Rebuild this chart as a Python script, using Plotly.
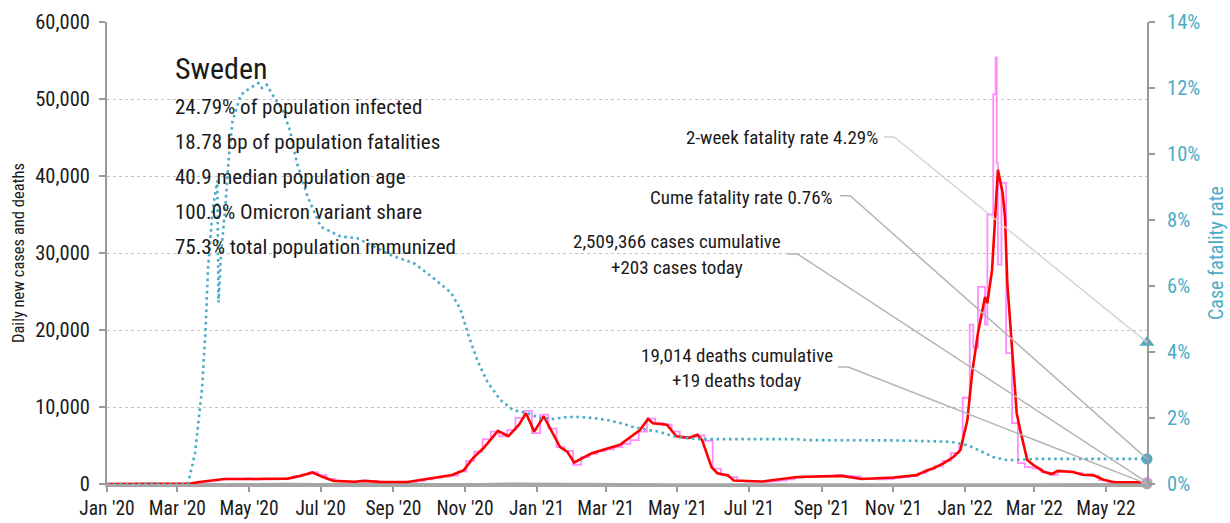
import plotly.graph_objects as go

FONT = "Liberation Sans Narrow, Roboto Condensed, DejaVu Sans Condensed, Arial Narrow, sans-serif"
TEAL = "#4bacc6"
RED = "#ff0000"
PINK = "#ff8cff"
GREY = "#a6a6a6"
INK = "#1a1a1a"

# ---- 7-day average of new cases ----
avg_dates = [
    "2020-01-01", "2020-02-28", "2020-03-12", "2020-03-20", "2020-04-01", "2020-04-10",
    "2020-05-01", "2020-05-20", "2020-06-03", "2020-06-15", "2020-06-24", "2020-07-03",
    "2020-07-12", "2020-07-30", "2020-08-07", "2020-08-20", "2020-09-13", "2020-09-24",
    "2020-10-11", "2020-10-21", "2020-10-31", "2020-11-08", "2020-11-17", "2020-11-29",
    "2020-12-08", "2020-12-17", "2020-12-23", "2020-12-30", "2021-01-07", "2021-01-21",
    "2021-01-27", "2021-02-02", "2021-02-17", "2021-03-13", "2021-03-30", "2021-04-06",
    "2021-04-10", "2021-04-22", "2021-04-30", "2021-05-11", "2021-05-18", "2021-05-22",
    "2021-05-30", "2021-06-04", "2021-06-13", "2021-06-18", "2021-07-12", "2021-08-11",
    "2021-09-18", "2021-10-05", "2021-11-01", "2021-11-21", "2021-11-27", "2021-12-05",
    "2021-12-14", "2021-12-22", "2021-12-28", "2022-01-03", "2022-01-07", "2022-01-12",
    "2022-01-18", "2022-01-20", "2022-01-24", "2022-01-29", "2022-02-02", "2022-02-04",
    "2022-02-06", "2022-02-10", "2022-02-14", "2022-02-17", "2022-02-23", "2022-02-28",
    "2022-03-09", "2022-03-16", "2022-03-21", "2022-04-03", "2022-04-11", "2022-04-20",
    "2022-04-29", "2022-05-07", "2022-06-05",
]
avg_cases = [
    0, 5, 60, 250, 450, 650,
    650, 650, 700, 1100, 1500, 900,
    400, 300, 400, 280, 260, 520,
    900, 1170, 1800, 3400, 4700, 6900,
    6200, 7700, 9200, 6800, 8800, 4800,
    4200, 2800, 4000, 5100, 7000, 8450,
    7900, 7700, 6200, 6000, 6400, 5700,
    2200, 1400, 1100, 450, 320, 900,
    1050, 650, 850, 1150, 1600, 2050,
    2700, 3500, 4400, 8300, 14400, 19600,
    24300, 23500, 27800, 40800, 37800, 34700,
    26100, 17000, 9200, 7000, 3100, 2500,
    1600, 1300, 1700, 1550, 1200, 1150,
    550, 260, 230,
]

# ---- reported daily new cases (held until the next report) ----
daily_dates = [
    "2020-01-01", "2020-03-02", "2020-03-09", "2020-03-16", "2020-03-23", "2020-03-30",
    "2020-04-06", "2020-04-13", "2020-04-20", "2020-04-27", "2020-05-04", "2020-05-11",
    "2020-05-18", "2020-05-25", "2020-06-01", "2020-06-08", "2020-06-15", "2020-06-22",
    "2020-06-29", "2020-07-06", "2020-07-13", "2020-07-20", "2020-07-27", "2020-08-03",
    "2020-08-10", "2020-08-17", "2020-08-24", "2020-08-31", "2020-09-07", "2020-09-14",
    "2020-09-21", "2020-09-28", "2020-10-05", "2020-10-12", "2020-10-19", "2020-10-26",
    "2020-11-02", "2020-11-09", "2020-11-16", "2020-11-23", "2020-11-30", "2020-12-07",
    "2020-12-14", "2020-12-21", "2020-12-28", "2021-01-04", "2021-01-11", "2021-01-18",
    "2021-01-25", "2021-02-01", "2021-02-08", "2021-02-15", "2021-02-22", "2021-03-01",
    "2021-03-08", "2021-03-15", "2021-03-22", "2021-03-29", "2021-04-05", "2021-04-12",
    "2021-04-19", "2021-04-26", "2021-05-03", "2021-05-10", "2021-05-17", "2021-05-24",
    "2021-05-31", "2021-06-07", "2021-06-14", "2021-06-21", "2021-06-28", "2021-07-05",
    "2021-07-12", "2021-07-19", "2021-07-26", "2021-08-02", "2021-08-09", "2021-08-16",
    "2021-08-23", "2021-08-30", "2021-09-06", "2021-09-13", "2021-09-20", "2021-09-27",
    "2021-10-04", "2021-10-11", "2021-10-18", "2021-10-25", "2021-11-01", "2021-11-08",
    "2021-11-15", "2021-11-22", "2021-11-29", "2021-12-06", "2021-12-13", "2021-12-20",
    "2021-12-27", "2021-12-30", "2022-01-05", "2022-01-08", "2022-01-12", "2022-01-18",
    "2022-01-20", "2022-01-25", "2022-01-27", "2022-01-28", "2022-01-29", "2022-02-01",
    "2022-02-05", "2022-02-10", "2022-02-15", "2022-02-21", "2022-02-28", "2022-03-07",
    "2022-03-14", "2022-03-21", "2022-03-28", "2022-04-04", "2022-04-11", "2022-04-18",
    "2022-04-25", "2022-05-02", "2022-05-09", "2022-05-16", "2022-05-23", "2022-05-30",
    "2022-06-05",
]
daily_cases = [
    0, 15, 100, 180, 330, 480,
    620, 700, 650, 720, 620, 700,
    650, 700, 760, 1000, 1250, 1500,
    1150, 650, 380, 330, 300, 380,
    380, 300, 260, 250, 260, 280,
    420, 600, 800, 950, 1100, 1600,
    3000, 4200, 5800, 6800, 6200, 7000,
    8600, 9500, 6600, 9000, 7200, 4800,
    4300, 2500, 3500, 3900, 4300, 4500,
    4800, 5200, 5700, 6800, 8500, 7900,
    7700, 6800, 6000, 6100, 6300, 5600,
    2000, 1200, 900, 400, 300, 300,
    280, 350, 450, 600, 800, 950,
    1000, 1050, 1000, 1150, 1050, 1000,
    700, 650, 600, 650, 800, 900,
    1100, 1400, 1900, 2300, 3000, 4000,
    5000, 11200, 20700, 17700, 25600, 20700,
    35000, 50600, 55400, 41700, 28500, 39100,
    17000, 7900, 2700, 2200, 2000, 1500,
    1200, 1600, 1600, 1400, 1200, 1100,
    500, 300, 250, 250, 220, 203,
    203,
]

# ---- daily deaths ----
death_dates = [
    "2020-01-01", "2020-03-15", "2020-04-01", "2020-04-15", "2020-05-01", "2020-06-01",
    "2020-07-01", "2020-08-01", "2020-10-01", "2020-11-15", "2020-12-15", "2021-01-15",
    "2021-02-15", "2021-04-01", "2021-05-01", "2021-06-15", "2021-12-01", "2022-01-20",
    "2022-02-15", "2022-03-10", "2022-05-01", "2022-06-05",
]
daily_deaths = [
    0, 10, 60, 110, 90, 50,
    20, 5, 3, 40, 110, 110,
    40, 20, 15, 3, 5, 25,
    45, 30, 10, 19,
]

# ---- case fatality rate (cumulative deaths / cumulative cases), % ----
cfr_dates = [
    "2020-01-01", "2020-03-10", "2020-03-16", "2020-03-22", "2020-03-25", "2020-03-27",
    "2020-03-31", "2020-04-04", "2020-04-05", "2020-04-07", "2020-04-11", "2020-04-14",
    "2020-04-17", "2020-04-24", "2020-05-02", "2020-05-09", "2020-05-12", "2020-05-16",
    "2020-05-21", "2020-05-30", "2020-06-05", "2020-06-11", "2020-06-20", "2020-07-01",
    "2020-07-18", "2020-08-01", "2020-08-15", "2020-09-01", "2020-09-18", "2020-10-03",
    "2020-10-20", "2020-10-28", "2020-11-04", "2020-11-12", "2020-11-20", "2020-12-01",
    "2020-12-12", "2020-12-24", "2021-01-04", "2021-01-15", "2021-01-27", "2021-02-07",
    "2021-02-18", "2021-03-02", "2021-03-13", "2021-03-24", "2021-04-05", "2021-04-16",
    "2021-04-27", "2021-05-09", "2021-05-20", "2021-08-10", "2021-08-20", "2021-11-05",
    "2021-12-20", "2022-01-03", "2022-01-14", "2022-01-25", "2022-02-06", "2022-02-20",
    "2022-03-04", "2022-06-05",
]
cfr_pct = [
    0, 0, 0.94, 2.9, 4.7, 6.5,
    8.3, 9.2, 5.5, 6.9, 8.5, 10.0,
    11.0, 11.8, 12.0, 12.15, 12.0, 12.1,
    11.8, 11.3, 10.7, 9.7, 8.7, 7.8,
    7.5, 7.45, 7.2, 6.9, 6.7, 6.3,
    5.8, 5.3, 4.5, 3.7, 3.1, 2.55,
    2.24, 2.15, 2.0, 1.97, 2.03, 2.03,
    2.0, 1.94, 1.85, 1.73, 1.64, 1.58,
    1.45, 1.39, 1.36, 1.36, 1.33, 1.32,
    1.28, 1.18, 1.0, 0.82, 0.72, 0.73,
    0.76, 0.76,
]

# ---- headline figures ----
last_date = "2022-06-05"
two_week_cfr = 4.29
cume_cfr = 0.76
cases_cumulative = 2509366
cases_today = 203
deaths_cumulative = 19014
deaths_today = 19
country = "Sweden"
stats = [
    "24.79% of population infected",
    "18.78 bp of population fatalities",
    "40.9 median population age",
    "100.0% Omicron variant share",
    "75.3% total population immunized",
]

Y_MAX = 60000
Y2_MAX = 14

fig = go.Figure()

fig.add_trace(go.Scatter(
    x=cfr_dates, y=cfr_pct, yaxis="y2", mode="lines",
    line=dict(color=TEAL, width=2.6, dash="2.6px,3.6px"),
    hoverinfo="skip", showlegend=False,
))
fig.add_trace(go.Scatter(
    x=death_dates, y=daily_deaths, mode="lines",
    line=dict(color=GREY, width=1.5), hoverinfo="skip", showlegend=False,
))
fig.add_trace(go.Scatter(
    x=daily_dates, y=daily_cases, mode="lines", line_shape="hv",
    line=dict(color=PINK, width=1.8), hoverinfo="skip", showlegend=False,
))
fig.add_trace(go.Scatter(
    x=avg_dates, y=avg_cases, mode="lines",
    line=dict(color=RED, width=2.6), hoverinfo="skip", showlegend=False,
))

# end-of-series markers
fig.add_trace(go.Scatter(
    x=[last_date], y=[two_week_cfr], yaxis="y2", mode="markers", cliponaxis=False,
    marker=dict(symbol="triangle-up", size=13, color=TEAL), hoverinfo="skip", showlegend=False,
))
fig.add_trace(go.Scatter(
    x=[last_date], y=[cume_cfr], yaxis="y2", mode="markers", cliponaxis=False,
    marker=dict(symbol="circle", size=11, color=TEAL), hoverinfo="skip", showlegend=False,
))
fig.add_trace(go.Scatter(
    x=[last_date], y=[cases_today], mode="markers", cliponaxis=False,
    marker=dict(symbol="circle", size=11, color=PINK), hoverinfo="skip", showlegend=False,
))
fig.add_trace(go.Scatter(
    x=[last_date], y=[deaths_today], mode="markers", cliponaxis=False,
    marker=dict(symbol="circle", size=11, color=GREY), hoverinfo="skip", showlegend=False,
))

annotations = []
shapes = []


def text(x, y, s, size=19, anchor="left", color=INK):
    annotations.append(dict(
        x=x, y=y, xref="paper", yref="paper", text=s, showarrow=False,
        xanchor=anchor, yanchor="middle",
        font=dict(family=FONT, size=size, color=color),
    ))


text(0.063, 0.900, country, size=30)
for i, line in enumerate(stats):
    text(0.063, 0.816 - i * 0.0755, line, size=21)


def leader(x0, y0, y_end, color):
    # short horizontal stub, then straight to the marker at the right edge
    shapes.append(dict(
        type="path", xref="paper", yref="paper",
        path=f"M {x0},{y0} L {x0 + 0.0098},{y0} L 1,{y_end}",
        line=dict(color=color, width=1.5),
    ))


text(0.7433, 0.749, f"2-week fatality rate {two_week_cfr:.2f}%", anchor="right")
leader(0.7471, 0.751, two_week_cfr / Y2_MAX, "#d4d4d4")

text(0.700, 0.621, f"Cume fatality rate {cume_cfr:.2f}%", anchor="right")
leader(0.7048, 0.624, cume_cfr / Y2_MAX, "#b4b4b4")

text(0.548, 0.524, f"{cases_cumulative:,} cases cumulative", anchor="center")
text(0.548, 0.468, f"+{cases_today:,} cases today", anchor="center")
leader(0.654, 0.498, cases_today / Y_MAX, "#b4b4b4")

text(0.6053, 0.279, f"{deaths_cumulative:,} deaths cumulative", anchor="center")
text(0.6053, 0.223, f"+{deaths_today:,} deaths today", anchor="center")
leader(0.7029, 0.253, deaths_today / Y_MAX, "#b4b4b4")

fig.update_layout(
    width=1230, height=523, autosize=False,
    margin=dict(l=107, r=83, t=22, b=39, autoexpand=False),
    paper_bgcolor="white", plot_bgcolor="white",
    font=dict(family=FONT, color=INK, size=19),
    showlegend=False, hovermode=False,
    annotations=annotations, shapes=shapes,
    xaxis=dict(
        type="date", range=["2020-01-01", last_date], automargin=False,
        tick0="2020-01-01", dtick="M2", tickformat="%b '%y",
        ticks="outside", ticklen=5, tickwidth=1.5, tickcolor="#9a9a9a",
        showline=True, linecolor=GREY, linewidth=3,
        showgrid=False, zeroline=False,
        tickfont=dict(family=FONT, size=19.5, color=INK),
    ),
    yaxis=dict(
        range=[0, Y_MAX], dtick=10000, tickformat=",", automargin=False,
        ticks="outside", ticklen=6, tickwidth=1.5, tickcolor="#9a9a9a",
        ticklabelstandoff=5,
        showline=True, linecolor="#9a9a9a", linewidth=2,
        showgrid=True, gridcolor="#c4c4c4", griddash="dot", gridwidth=1,
        zeroline=False,
        tickfont=dict(family=FONT, size=20.5, color=INK),
        title=dict(text="Daily new cases and deaths", standoff=6,
                   font=dict(family=FONT, size=16.5, color=INK)),
    ),
    yaxis2=dict(
        overlaying="y", side="right", range=[0, Y2_MAX], dtick=2, ticksuffix="%",
        automargin=False,
        ticks="outside", ticklen=6, tickwidth=1.5, tickcolor="#9a9a9a",
        ticklabelstandoff=8,
        showline=True, linecolor="#9a9a9a", linewidth=2,
        showgrid=False, zeroline=False,
        tickfont=dict(family=FONT, size=20.5, color=TEAL),
        title=dict(text="Case fatality rate", standoff=10,
                   font=dict(family=FONT, size=20, color=TEAL)),
    ),
)

fig.write_html("out.html")
